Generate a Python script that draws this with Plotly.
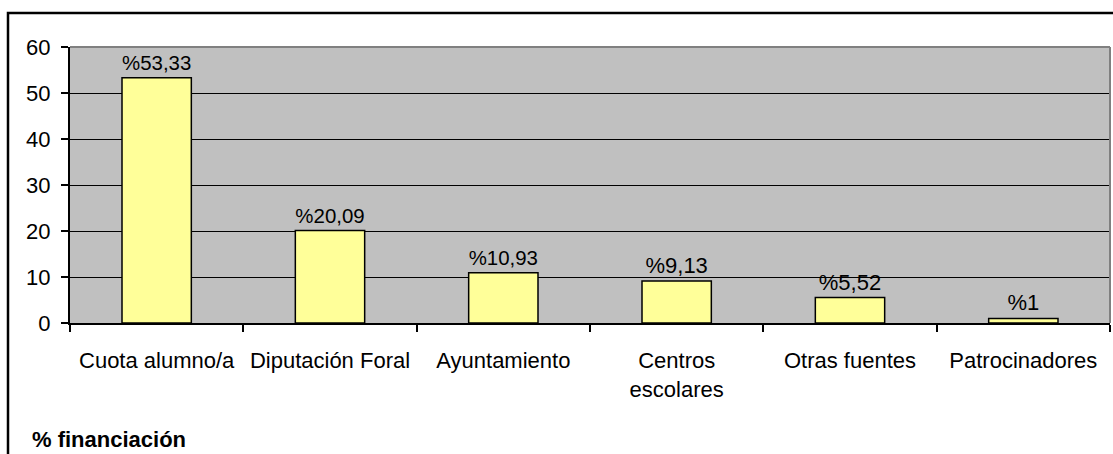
import plotly.graph_objects as go

categories = ["Cuota alumno/a", "Diputación Foral", "Ayuntamiento", "Centros<br>escolares", "Otras fuentes", "Patrocinadores"]
values = [53.33, 20.09, 10.93, 9.13, 5.52, 1]
labels = ["%53,33", "%20,09", "%10,93", "%9,13", "%5,52", "%1"]
title_text = "<b>% financiación</b>"

W, H = 1113, 454
L, R, T, B = 70, 3, 47, 131
pw = W - L - R
ph = H - T - B

FONT = "Liberation Sans, Arial, sans-serif"
FS = 22

fig = go.Figure(go.Bar(
    x=categories, y=values, text=labels, textposition="outside",
    textfont=dict(size=FS, color="black", family=FONT),
    marker=dict(color="#FFFF99", line=dict(color="black", width=1.5)),
    width=0.4, cliponaxis=False,
))

fig.update_layout(
    width=W, height=H,
    margin=dict(l=L, r=R, t=T, b=B, pad=0),
    paper_bgcolor="white", plot_bgcolor="#C0C0C0",
    font=dict(family=FONT, size=FS, color="black"),
    showlegend=False,
    title=dict(text=title_text, x=32 / W, xanchor="left", xref="container",
               y=1 - 439 / H, yanchor="middle", yref="container",
               font=dict(size=FS, family=FONT, color="black")),
    xaxis=dict(type="category", tickson="boundaries", ticks="outside", ticklen=7,
               tickcolor="black", tickwidth=1.5, showline=True, linecolor="black",
               linewidth=2, showgrid=False, ticklabelstandoff=17,
               tickfont=dict(size=FS, family=FONT, color="black"), tickangle=0),
    yaxis=dict(range=[0, 60], dtick=10, ticks="outside", ticklen=7, tickcolor="black",
               tickwidth=1.5, showline=True, linecolor="black", linewidth=2,
               showgrid=True, gridcolor="black", gridwidth=1, zeroline=False,
               ticklabelstandoff=6,
               tickfont=dict(size=FS, family=FONT, color="black")),
    shapes=[
        dict(type="line", xref="paper", yref="paper", x0=0, x1=1, y0=1, y1=1,
             line=dict(color="#808080", width=2), layer="above"),
        dict(type="line", xref="paper", yref="paper", x0=1, x1=1, y0=0, y1=1,
             line=dict(color="#808080", width=2), layer="above"),
        dict(type="rect", xref="paper", yref="paper",
             x0=(8 - L) / pw, x1=1.2, y0=-1.0, y1=(H - B - 13) / ph,
             line=dict(color="black", width=2.5), fillcolor="rgba(0,0,0,0)", layer="above"),
    ],
)

fig.write_html("out.html", config={"displayModeBar": False},
               post_script="document.body.style.margin='0';document.body.style.overflow='hidden';")
